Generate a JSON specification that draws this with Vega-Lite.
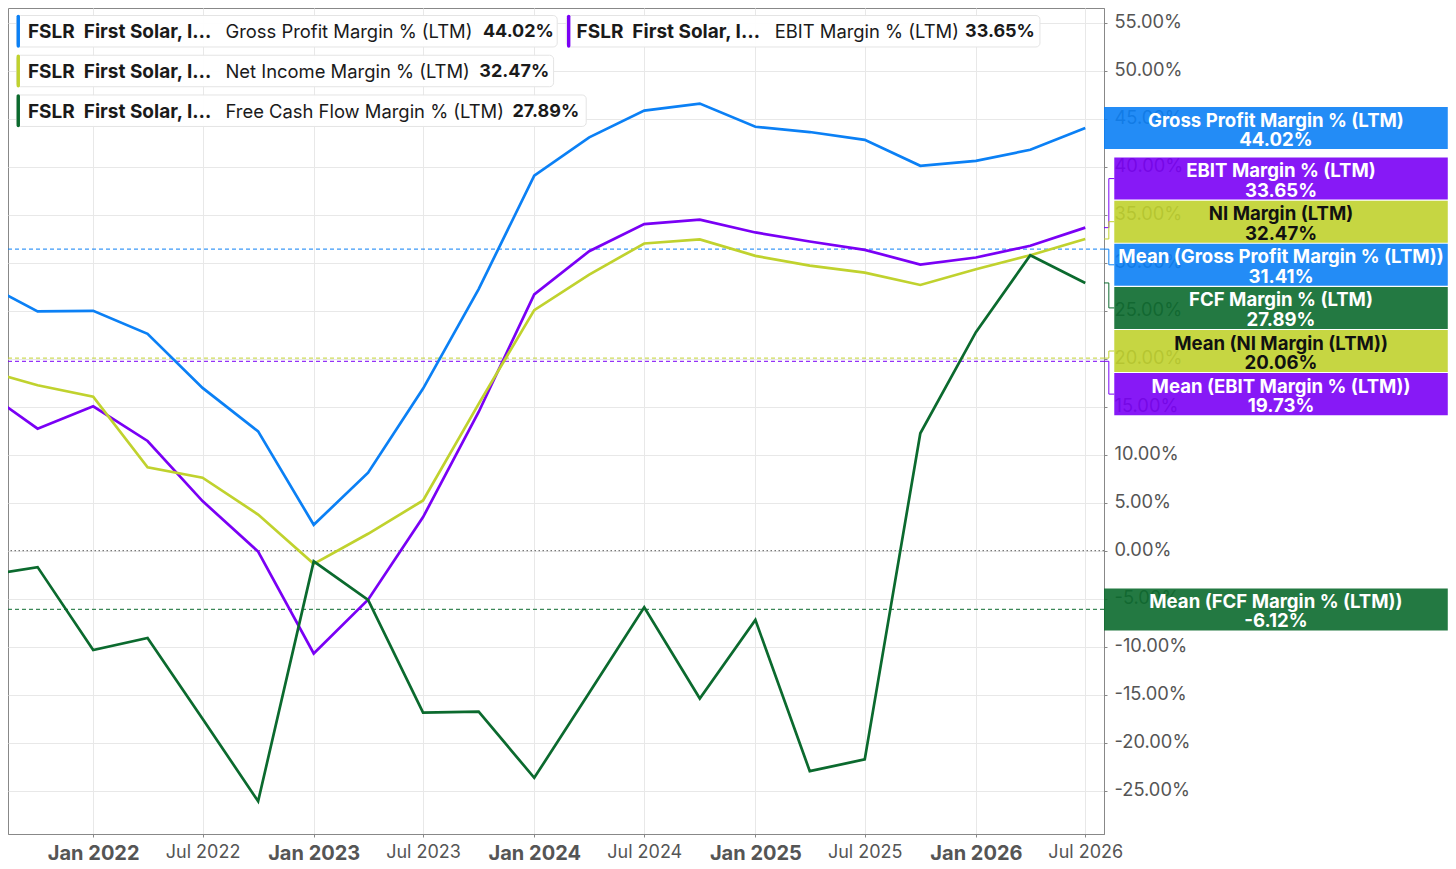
{
  "$schema": "https://vega.github.io/schema/vega-lite/v6.json",
  "width": 1096,
  "height": 826,
  "autosize": {"type": "none"},
  "padding": {"left": 8, "top": 8, "right": 352, "bottom": 35},
  "background": "white",
  "datasets": {
    "margins": [
      {"date": "2021-07-01", "Gross Profit": 27.98, "EBIT": 16.83, "Net Income": 18.89, "FCF": -2.65},
      {"date": "2021-10-01", "Gross Profit": 24.92, "EBIT": 12.71, "Net Income": 17.23, "FCF": -1.71},
      {"date": "2022-01-01", "Gross Profit": 24.99, "EBIT": 15.04, "Net Income": 16.05, "FCF": -10.35},
      {"date": "2022-04-01", "Gross Profit": 22.59, "EBIT": 11.43, "Net Income": 8.68, "FCF": -9.09},
      {"date": "2022-07-01", "Gross Profit": 16.96, "EBIT": 5.17, "Net Income": 7.6, "FCF": -17.5},
      {"date": "2022-10-01", "Gross Profit": 12.43, "EBIT": -0.09, "Net Income": 3.77, "FCF": -26.1},
      {"date": "2023-01-01", "Gross Profit": 2.7, "EBIT": -10.7, "Net Income": -1.37, "FCF": -1.11},
      {"date": "2023-04-01", "Gross Profit": 8.12, "EBIT": -5.1, "Net Income": 1.76, "FCF": -5.12},
      {"date": "2023-07-01", "Gross Profit": 16.89, "EBIT": 3.5, "Net Income": 5.23, "FCF": -16.86},
      {"date": "2023-10-01", "Gross Profit": 27.25, "EBIT": 14.45, "Net Income": 15.3, "FCF": -16.76},
      {"date": "2024-01-01", "Gross Profit": 39.06, "EBIT": 26.7, "Net Income": 25.06, "FCF": -23.66},
      {"date": "2024-04-01", "Gross Profit": 43.05, "EBIT": 31.2, "Net Income": 28.76, "FCF": -14.8},
      {"date": "2024-07-01", "Gross Profit": 45.84, "EBIT": 34.02, "Net Income": 32.0, "FCF": -5.89},
      {"date": "2024-10-01", "Gross Profit": 46.57, "EBIT": 34.48, "Net Income": 32.42, "FCF": -15.4},
      {"date": "2025-01-01", "Gross Profit": 44.16, "EBIT": 33.15, "Net Income": 30.71, "FCF": -7.21},
      {"date": "2025-04-01", "Gross Profit": 43.61, "EBIT": 32.21, "Net Income": 29.7, "FCF": -22.96},
      {"date": "2025-07-01", "Gross Profit": 42.8, "EBIT": 31.34, "Net Income": 28.97, "FCF": -21.74},
      {"date": "2025-10-01", "Gross Profit": 40.09, "EBIT": 29.81, "Net Income": 27.68, "FCF": 12.23},
      {"date": "2026-01-01", "Gross Profit": 40.61, "EBIT": 30.54, "Net Income": 29.32, "FCF": 22.77},
      {"date": "2026-04-01", "Gross Profit": 41.76, "EBIT": 31.76, "Net Income": 30.78, "FCF": 30.78},
      {"date": "2026-07-01", "Gross Profit": 44.02, "EBIT": 33.65, "Net Income": 32.47, "FCF": 27.89}
    ],
    "labels": [
      {"key": "Gross Profit", "kind": "last", "text": "Gross Profit Margin % (LTM)", "value": 44.02},
      {"key": "EBIT", "kind": "last", "text": "EBIT Margin % (LTM)", "value": 33.65},
      {"key": "Net Income", "kind": "last", "text": "NI Margin (LTM)", "value": 32.47},
      {"key": "Gross Profit", "kind": "mean", "text": "Mean (Gross Profit Margin % (LTM))", "value": 31.41},
      {"key": "FCF", "kind": "last", "text": "FCF Margin % (LTM)", "value": 27.89},
      {"key": "Net Income", "kind": "mean", "text": "Mean (NI Margin (LTM))", "value": 20.06},
      {"key": "EBIT", "kind": "mean", "text": "Mean (EBIT Margin % (LTM))", "value": 19.73},
      {"key": "FCF", "kind": "mean", "text": "Mean (FCF Margin % (LTM))", "value": -6.12}
    ],
    "legend": [
      {"key": "Gross Profit", "ticker": "FSLR", "company": "First Solar, I…", "metric": "Gross Profit Margin % (LTM)", "value": 44.02},
      {"key": "EBIT", "ticker": "FSLR", "company": "First Solar, I…", "metric": "EBIT Margin % (LTM)", "value": 33.65},
      {"key": "Net Income", "ticker": "FSLR", "company": "First Solar, I…", "metric": "Net Income Margin % (LTM)", "value": 32.47},
      {"key": "FCF", "ticker": "FSLR", "company": "First Solar, I…", "metric": "Free Cash Flow Margin % (LTM)", "value": 27.89}
    ]
  },
  "layer": [
    {
      "data": {"values": [{"zero": 0}]},
      "mark": {"type": "rule", "color": "#777", "strokeWidth": 1.2, "strokeDash": [1.5, 2.5]},
      "encoding": {"y": {"field": "zero", "type": "quantitative"}}
    },
    {
      "data": {"name": "labels"},
      "transform": [{"filter": "datum.kind === 'mean'"}],
      "mark": {"type": "rule", "strokeWidth": 1.2, "strokeDash": [4, 3], "opacity": 0.8},
      "encoding": {
        "y": {"field": "value", "type": "quantitative"},
        "color": {"field": "key", "type": "nominal", "legend": null}
      }
    },
    {
      "data": {"name": "margins"},
      "transform": [{"fold": ["Gross Profit", "EBIT", "Net Income", "FCF"], "as": ["key", "value"]}],
      "mark": {"type": "line", "strokeWidth": 2.7, "clip": true},
      "encoding": {
        "x": {
          "field": "date",
          "type": "temporal",
          "title": null,
          "scale": {
            "type": "utc",
            "domain": [
              {"year": 2021, "month": 8, "date": 13, "utc": true},
              {"year": 2026, "month": 8, "date": 1, "utc": true}
            ]
          },
          "axis": {
            "values": [
              {"year": 2022, "month": 1, "date": 1, "utc": true},
              {"year": 2022, "month": 7, "date": 1, "utc": true},
              {"year": 2023, "month": 1, "date": 1, "utc": true},
              {"year": 2023, "month": 7, "date": 1, "utc": true},
              {"year": 2024, "month": 1, "date": 1, "utc": true},
              {"year": 2024, "month": 7, "date": 1, "utc": true},
              {"year": 2025, "month": 1, "date": 1, "utc": true},
              {"year": 2025, "month": 7, "date": 1, "utc": true},
              {"year": 2026, "month": 1, "date": 1, "utc": true},
              {"year": 2026, "month": 7, "date": 1, "utc": true}
            ],
            "labelExpr": "utcFormat(datum.value, '%b %Y')",
            "labelFontWeight": {"condition": {"test": "utcmonth(datum.value) === 0", "value": "bold"}, "value": "normal"},
            "labelFontSize": {"condition": {"test": "utcmonth(datum.value) === 0", "value": 20}, "value": 18},
            "labelPadding": 6,
            "labelColor": "#555"
          }
        },
        "y": {
          "field": "value",
          "type": "quantitative",
          "title": null,
          "scale": {"domain": [-29.51, 56.53], "nice": false, "zero": false},
          "axis": {
            "orient": "right",
            "values": [-25, -20, -15, -10, -5, 0, 5, 10, 15, 20, 25, 30, 35, 40, 45, 50, 55],
            "labelExpr": "replace(format(datum.value, '.2f'), '\u2212', '-') + '%'",
            "labelFontSize": 18.3,
            "labelPadding": 7,
            "labelColor": "#555"
          }
        },
        "color": {
          "field": "key",
          "type": "nominal",
          "legend": null,
          "scale": {
            "domain": ["Gross Profit", "EBIT", "Net Income", "FCF"],
            "range": ["#0b80f5", "#7a00f5", "#c0d22e", "#0b6a2e"]
          }
        }
      }
    },
    {
      "data": {"name": "labels"},
      "transform": [
        {"calculate": "datum.value > 40 || datum.value < 0 ? 'free' : 'stack'", "as": "grp"},
        {"window": [{"op": "row_number", "as": "r"}], "sort": [{"field": "value", "order": "descending"}], "groupby": ["grp"]},
        {"joinaggregate": [{"op": "mean", "field": "value", "as": "m"}, {"op": "count", "as": "n"}], "groupby": ["grp"]},
        {"calculate": "datum.grp === 'stack' ? datum.m + ((datum.n + 1) / 2 - datum.r) * 4.49 : datum.value", "as": "ly"},
        {"calculate": "datum.ly - 2.19", "as": "ly0"},
        {"calculate": "datum.ly + 2.19", "as": "ly1"},
        {"calculate": "datum.grp === 'stack' ? utc(2026, 7, 18) : utc(2026, 7, 1)", "as": "lx0"},
        {"calculate": "(datum.lx0 + utc(2028, 1, 21)) / 2", "as": "lxc"},
        {"calculate": "[datum.text, replace(format(datum.value, '.2f'), '\u2212', '-') + '%']", "as": "lines"}
      ],
      "layer": [
        {
          "transform": [{"filter": "datum.grp === 'stack'"}],
          "mark": {"type": "rule", "strokeWidth": 1},
          "encoding": {
            "x": {"datum": {"year": 2026, "month": 8, "date": 1, "utc": true}, "type": "temporal"},
            "x2": {"datum": {"year": 2026, "month": 8, "date": 9, "utc": true}},
            "y": {"field": "value", "type": "quantitative"},
            "color": {"field": "key", "type": "nominal", "legend": null}
          }
        },
        {
          "transform": [{"filter": "datum.grp === 'stack'"}],
          "mark": {"type": "rule", "strokeWidth": 1},
          "encoding": {
            "x": {"datum": {"year": 2026, "month": 8, "date": 9, "utc": true}, "type": "temporal"},
            "y": {"field": "value", "type": "quantitative"},
            "y2": {"field": "ly"},
            "color": {"field": "key", "type": "nominal", "legend": null}
          }
        },
        {
          "transform": [{"filter": "datum.grp === 'stack'"}],
          "mark": {"type": "rule", "strokeWidth": 1},
          "encoding": {
            "x": {"datum": {"year": 2026, "month": 8, "date": 9, "utc": true}, "type": "temporal"},
            "x2": {"datum": {"year": 2026, "month": 8, "date": 18, "utc": true}},
            "y": {"field": "ly", "type": "quantitative"},
            "color": {"field": "key", "type": "nominal", "legend": null}
          }
        },
        {
          "mark": {"type": "rect", "fillOpacity": 0.9},
          "encoding": {
            "x": {"field": "lx0", "type": "temporal"},
            "x2": {"datum": {"year": 2028, "month": 2, "date": 21, "utc": true}},
            "y": {"field": "ly0", "type": "quantitative"},
            "y2": {"field": "ly1"},
            "color": {"field": "key", "type": "nominal", "legend": null}
          }
        },
        {
          "mark": {"type": "text", "font": "Inter", "fontSize": 18.6, "fontWeight": "bold", "align": "center", "baseline": "middle", "lineHeight": 19.5, "dy": -7.5},
          "encoding": {
            "x": {"field": "lxc", "type": "temporal"},
            "y": {"field": "ly", "type": "quantitative"},
            "text": {"field": "lines"},
            "color": {"condition": {"test": "datum.key === 'Net Income'", "value": "#111111"}, "value": "#ffffff"}
          }
        }
      ]
    },
    {
      "data": {"name": "legend"},
      "transform": [
        {"calculate": "datum.key === 'Net Income' ? 49.97 : datum.key === 'FCF' ? 45.83 : 54.11", "as": "ly"},
        {"calculate": "datum.ly - 1.64", "as": "ly0"},
        {"calculate": "datum.ly + 1.64", "as": "ly1"},
        {"calculate": "datum.ly - 1.55", "as": "lb0"},
        {"calculate": "datum.ly + 1.55", "as": "lb1"},
        {"calculate": "datum.key === 'EBIT'", "as": "col1"},
        {"calculate": "datum.col1 ? utc(2024, 1, 23) : utc(2021, 7, 27)", "as": "bx0"},
        {"calculate": "datum.col1 ? utc(2024, 1, 27) : utc(2021, 7, 30)", "as": "barx"},
        {"calculate": "datum.col1 ? utc(2024, 2, 11) : utc(2021, 8, 15)", "as": "nx"},
        {"calculate": "datum.col1 ? utc(2025, 1, 2) : utc(2022, 7, 8)", "as": "mx"},
        {"calculate": "datum.key === 'Gross Profit' ? utc(2023, 9, 8) : datum.key === 'Net Income' ? utc(2023, 9, 2) : datum.key === 'FCF' ? utc(2023, 10, 26) : utc(2025, 11, 14)", "as": "vx"},
        {"calculate": "datum.key === 'Gross Profit' ? utc(2024, 1, 8) : datum.key === 'Net Income' ? utc(2024, 1, 2) : datum.key === 'FCF' ? utc(2024, 2, 27) : utc(2026, 3, 17)", "as": "bx1"},
        {"calculate": "datum.ticker + '\u00a0\u00a0' + datum.company", "as": "name"},
        {"calculate": "format(datum.value, '.2f') + '%'", "as": "vtext"}
      ],
      "layer": [
        {
          "mark": {"type": "rect", "fill": "#ffffff", "fillOpacity": 0.95, "stroke": "#e4e4e4", "strokeWidth": 1, "cornerRadius": 4},
          "encoding": {
            "x": {"field": "bx0", "type": "temporal"},
            "x2": {"field": "bx1"},
            "y": {"field": "ly0", "type": "quantitative"},
            "y2": {"field": "ly1"}
          }
        },
        {
          "mark": {"type": "rule", "strokeWidth": 3.4, "strokeCap": "round"},
          "encoding": {
            "x": {"field": "barx", "type": "temporal"},
            "y": {"field": "lb0", "type": "quantitative"},
            "y2": {"field": "lb1"},
            "color": {"field": "key", "type": "nominal", "legend": null}
          }
        },
        {
          "mark": {"type": "text", "font": "Inter", "fontSize": 19, "fontWeight": "bold", "align": "left", "baseline": "middle", "color": "#1a1a1a", "dy": 1},
          "encoding": {
            "x": {"field": "nx", "type": "temporal"},
            "y": {"field": "ly", "type": "quantitative"},
            "text": {"field": "name"}
          }
        },
        {
          "mark": {"type": "text", "font": "Inter", "fontSize": 18.4, "fontWeight": "normal", "align": "left", "baseline": "middle", "color": "#1a1a1a", "dy": 1},
          "encoding": {
            "x": {"field": "mx", "type": "temporal"},
            "y": {"field": "ly", "type": "quantitative"},
            "text": {"field": "metric"}
          }
        },
        {
          "mark": {"type": "text", "font": "Inter", "fontSize": 18, "fontWeight": "bold", "align": "left", "baseline": "middle", "color": "#1a1a1a", "dy": 1},
          "encoding": {
            "x": {"field": "vx", "type": "temporal"},
            "y": {"field": "ly", "type": "quantitative"},
            "text": {"field": "vtext"}
          }
        }
      ]
    }
  ],
  "config": {
    "font": "Inter",
    "view": {"stroke": "#888", "strokeWidth": 1},
    "axis": {
      "grid": true,
      "gridColor": "#e8e8e8",
      "gridWidth": 1,
      "domainColor": "#888",
      "tickColor": "#888",
      "tickSize": 3,
      "labelFont": "Inter"
    }
  }
}
